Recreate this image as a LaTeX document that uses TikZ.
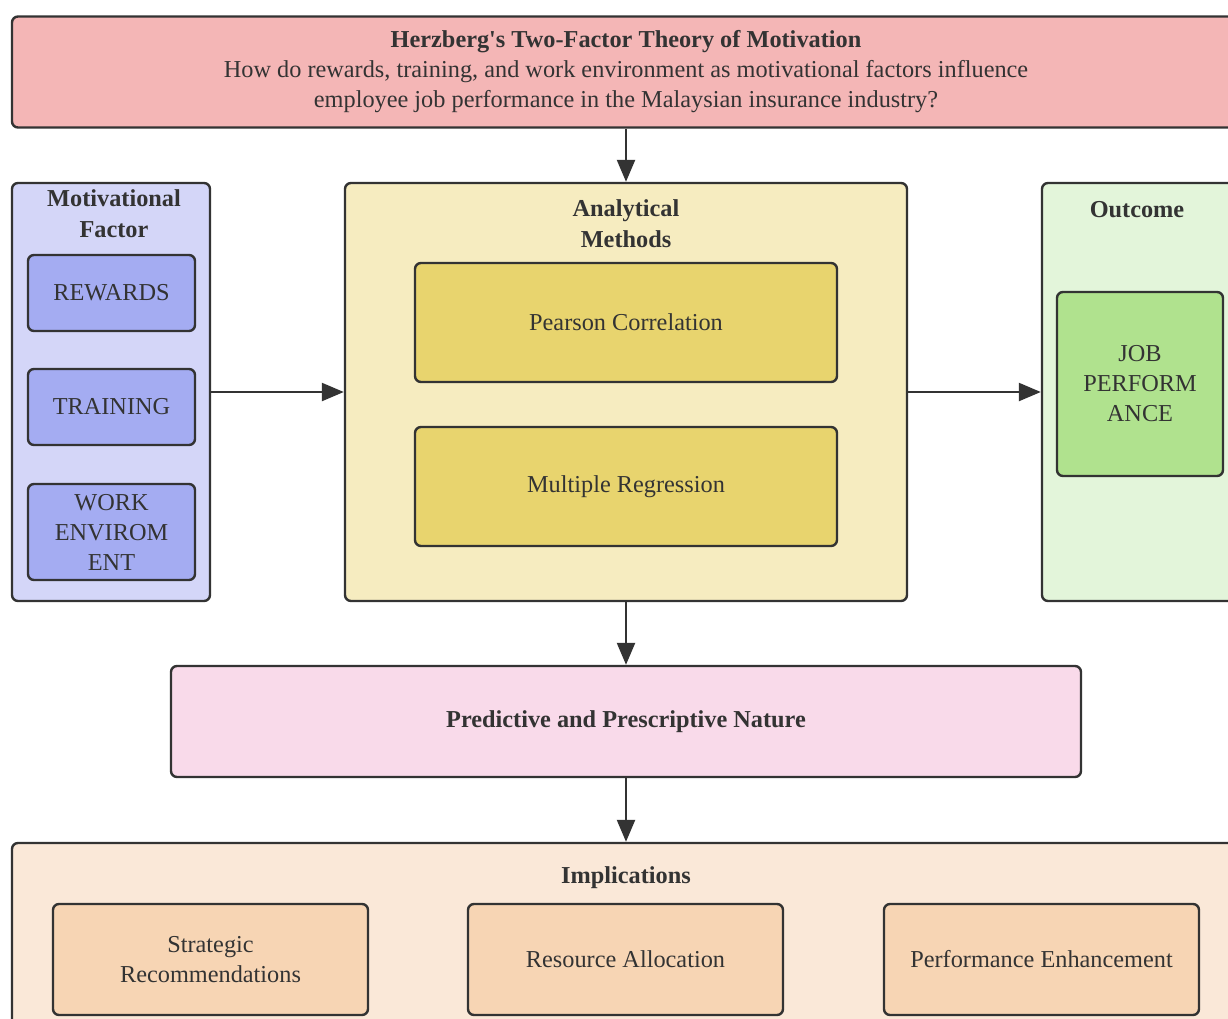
\documentclass[tikz,border=0pt]{standalone}
\usepackage{fontspec}
\setmainfont{Liberation Serif}
\usetikzlibrary{arrows.meta}
\definecolor{edge}{HTML}{333333}
\definecolor{txt}{HTML}{333333}
\definecolor{topfill}{RGB}{244,182,182}
\definecolor{motfill}{RGB}{212,214,248}
\definecolor{motin}{RGB}{164,172,242}
\definecolor{anafill}{RGB}{246,236,192}
\definecolor{anain}{RGB}{232,212,110}
\definecolor{outfill}{RGB}{227,245,218}
\definecolor{outin}{RGB}{176,226,142}
\definecolor{predfill}{RGB}{249,218,234}
\definecolor{impfill}{RGB}{250,232,216}
\definecolor{impin}{RGB}{247,213,180}
\begin{document}
\begin{tikzpicture}[x=1pt,y=-1pt,
  box/.style={draw=edge, line width=2.4pt, rounded corners=6pt, inner sep=0pt, text=txt, align=center, font=\fontsize{24.3}{30}\selectfont},
  ttl/.style={text=txt, align=center, inner sep=0pt, font=\bfseries\fontsize{24.3}{31}\selectfont},
  arr/.style={draw=edge, line width=2.4pt, -{Triangle[length=22pt,width=18pt]}}]
\useasboundingbox (0,0) rectangle (1228,1018);
\clip (0,0) rectangle (1228,1018);

% top
\node[box, fill=topfill, minimum width=1228pt, minimum height=111pt] (top) at (626,72)
  {\textbf{Herzberg\textquotesingle s Two-Factor Theory of Motivation}\\How do rewards, training, and work environment as motivational factors influence\\employee job performance in the Malaysian insurance industry?};

% motivational factor
\node[box, fill=motfill, minimum width=198pt, minimum height=418pt] (mot) at (111,392) {};
\node[ttl] (motT) at (114,213.5) {Motivational\\Factor};
\node[box, fill=motin, minimum width=167pt, minimum height=76pt] (rew) at (111.5,293) {REWARDS};
\node[box, fill=motin, minimum width=167pt, minimum height=76pt] (tra) at (111.5,407) {TRAINING};
\node[box, fill=motin, minimum width=167pt, minimum height=96pt] (wor) at (111.5,532) {WORK\\ENVIROM\\ENT};

% analytical
\node[box, fill=anafill, minimum width=562pt, minimum height=418pt] (ana) at (626,392) {};
\node[ttl] (anaT) at (626,224) {Analytical\\Methods};
\node[box, fill=anain, minimum width=422pt, minimum height=119pt] (pea) at (626,322.5) {Pearson Correlation};
\node[box, fill=anain, minimum width=422pt, minimum height=119pt] (mul) at (626,486.5) {Multiple Regression};

% outcome
\node[box, fill=outfill, minimum width=198pt, minimum height=418pt] (out) at (1141,392) {};
\node[ttl] (outT) at (1137,209.5) {Outcome};
\node[box, fill=outin, minimum width=166pt, minimum height=184pt] (job) at (1140,384) {JOB\\PERFORM\\ANCE};

% predictive
\node[box, fill=predfill, minimum width=910pt, minimum height=111pt] (pred) at (626,721.5) {\textbf{Predictive and Prescriptive Nature}};

% implications
\node[box, fill=impfill, minimum width=1228pt, minimum height=200pt] (imp) at (626,943) {};
\node[ttl] (impT) at (626,877.5) {Implications};
\node[box, fill=impin, minimum width=315pt, minimum height=111pt] (str) at (210.5,959.5) {Strategic\\Recommendations};
\node[box, fill=impin, minimum width=315pt, minimum height=111pt] (res) at (625.5,959.5) {Resource Allocation};
\node[box, fill=impin, minimum width=315pt, minimum height=111pt] (per) at (1041.5,959.5) {Performance Enhancement};

% connectors
\draw[arr] (top.south) -- (ana.north);
\draw[arr] (mot.east) -- (ana.west);
\draw[arr] (ana.east) -- (out.west);
\draw[arr] (ana.south) -- (pred.north);
\draw[arr] (pred.south) -- (imp.north);
\end{tikzpicture}
\end{document}
